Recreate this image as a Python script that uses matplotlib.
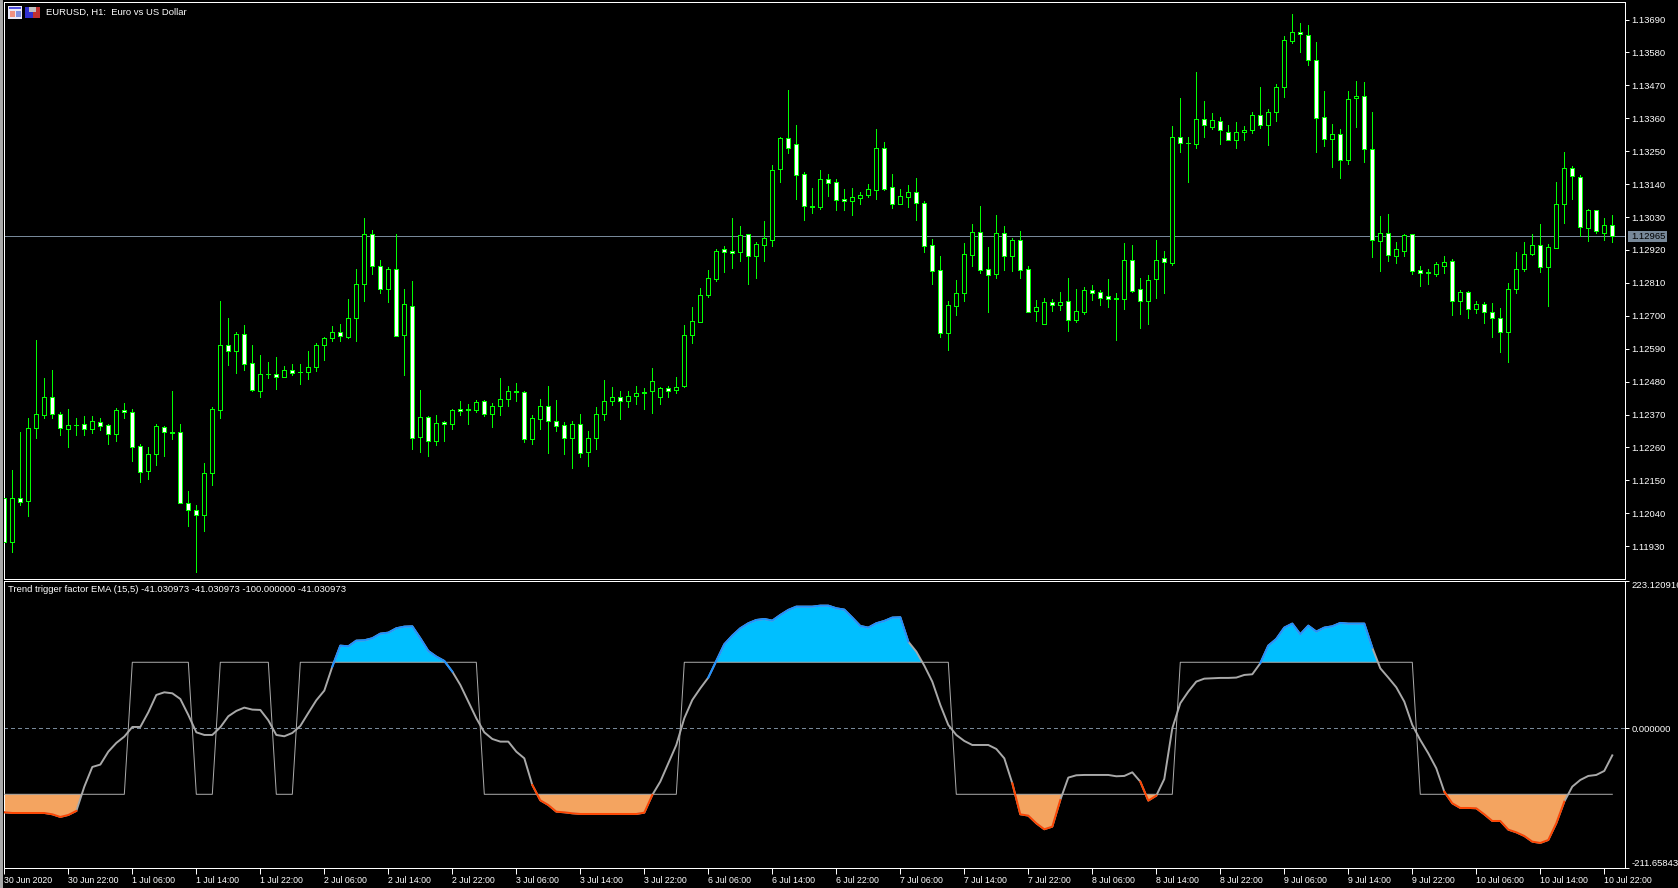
import matplotlib
matplotlib.use("Agg")
import numpy as np
import matplotlib.pyplot as plt
from matplotlib.patches import Rectangle

plt.rcParams['font.family'] = ['Liberation Sans', 'DejaVu Sans']

# EURUSD H1 prices, in points (1e-5)
open_pts = [
    112091, 111943, 112091, 112080, 112326, 112368, 112429, 112373, 112321, 112336,
    112339, 112321, 112346, 112336, 112304, 112386, 112379, 112265, 112181, 112239,
    112329, 112312, 112312, 112075, 112051, 112034, 112175, 112386, 112604, 112583,
    112640, 112543, 112450, 112506, 112506, 112495, 112520, 112512, 112513, 112530,
    112604, 112627, 112647, 112629, 112691, 112805, 112972, 112865, 112788, 112858,
    112636, 112734, 112294, 112363, 112281, 112346, 112339, 112389, 112386, 112386,
    112416, 112373, 112399, 112423, 112450, 112446, 112289, 112356, 112399, 112349,
    112336, 112291, 112339, 112245, 112293, 112372, 112415, 112430, 112415, 112433,
    112444, 112447, 112430, 112457, 112452, 112465, 112636, 112680, 112770, 112824,
    112922, 112915, 112914, 112972, 112901, 112938, 112954, 113189, 113294, 113274,
    113173, 113066, 113062, 113156, 113146, 113090, 113082, 113095, 113102, 113122,
    113260, 113130, 113072, 113098, 113113, 113076, 112936, 112852, 112643, 112734,
    112777, 112904, 112979, 112855, 112841, 112976, 112901, 112952, 112855, 112717,
    112673, 112745, 112737, 112751, 112687, 112713, 112785, 112778, 112765, 112761,
    112757, 112885, 112788, 112750, 112824, 112892, 112876, 113297, 113277, 113273,
    113357, 113332, 113351, 113314, 113286, 113313, 113320, 113371, 113336, 113380,
    113463, 113617, 113649, 113639, 113555, 113364, 113291, 113307, 113222, 113427,
    113434, 113259, 112951, 112976, 112901, 112918, 112972, 112852, 112845, 112841,
    112868, 112882, 112751, 112781, 112724, 112741, 112711, 112691, 112647, 112791,
    112858, 112907, 112935, 112864, 112928, 113073, 113193, 113163, 112994, 113053,
    112978, 113003,
]
high_pts = [
    112091, 112186, 112310, 112360, 112618, 112493, 112518, 112379, 112387, 112357,
    112364, 112364, 112357, 112337, 112393, 112407, 112387, 112270, 112260, 112339,
    112330, 112447, 112337, 112113, 112069, 112209, 112396, 112749, 112694, 112647,
    112668, 112604, 112570, 112544, 112561, 112531, 112540, 112540, 112583, 112610,
    112628, 112667, 112671, 112756, 112856, 113027, 112987, 112888, 112862, 112973,
    112789, 112816, 112451, 112364, 112370, 112350, 112389, 112414, 112404, 112417,
    112417, 112407, 112491, 112464, 112477, 112447, 112370, 112421, 112467, 112417,
    112344, 112347, 112371, 112314, 112394, 112485, 112461, 112448, 112448, 112464,
    112458, 112524, 112461, 112464, 112494, 112668, 112729, 112793, 112853, 112923,
    112933, 113027, 113000, 112973, 112947, 113017, 113203, 113297, 113456, 113338,
    113181, 113127, 113188, 113174, 113158, 113124, 113127, 113114, 113141, 113325,
    113281, 113174, 113124, 113137, 113161, 113084, 112957, 112900, 112748, 112819,
    112943, 113007, 113067, 112930, 113037, 113000, 112960, 112983, 112866, 112752,
    112759, 112756, 112779, 112826, 112789, 112796, 112803, 112786, 112823, 112776,
    112943, 112936, 112826, 112836, 112953, 112916, 113335, 113429, 113297, 113516,
    113419, 113379, 113365, 113338, 113349, 113335, 113382, 113466, 113392, 113476,
    113636, 113707, 113677, 113673, 113616, 113452, 113342, 113325, 113452, 113486,
    113482, 113382, 113034, 113041, 112947, 112974, 112974, 112866, 112855, 112880,
    112900, 112889, 112786, 112782, 112749, 112746, 112742, 112725, 112809, 112913,
    112946, 112973, 113007, 112940, 113148, 113248, 113201, 113171, 113057, 113054,
    113027, 113037,
]
low_pts = [
    111943, 111909, 112067, 112032, 112291, 112357, 112360, 112303, 112260, 112300,
    112303, 112307, 112317, 112273, 112283, 112360, 112216, 112146, 112153, 112200,
    112230, 112287, 112075, 111999, 111845, 111980, 112136, 112360, 112534, 112508,
    112518, 112447, 112427, 112491, 112454, 112494, 112501, 112471, 112488, 112514,
    112551, 112615, 112615, 112625, 112615, 112749, 112839, 112776, 112746, 112634,
    112501, 112256, 112246, 112230, 112267, 112283, 112323, 112367, 112337, 112377,
    112364, 112327, 112367, 112397, 112414, 112277, 112273, 112323, 112240, 112315,
    112237, 112190, 112227, 112197, 112254, 112351, 112401, 112354, 112394, 112404,
    112387, 112374, 112404, 112428, 112441, 112462, 112609, 112680, 112763, 112816,
    112846, 112860, 112883, 112806, 112826, 112883, 112933, 113148, 113245, 113091,
    113020, 113044, 113057, 113101, 113054, 113054, 113037, 113074, 113097, 113091,
    113121, 113060, 113072, 113064, 113020, 112913, 112806, 112629, 112585, 112702,
    112749, 112866, 112843, 112712, 112826, 112853, 112850, 112826, 112713, 112682,
    112673, 112716, 112719, 112649, 112679, 112706, 112752, 112736, 112729, 112619,
    112722, 112779, 112658, 112672, 112759, 112776, 112870, 113248, 113148, 113261,
    113298, 113325, 113275, 113289, 113261, 113288, 113312, 113328, 113272, 113352,
    113432, 113610, 113580, 113539, 113248, 113268, 113198, 113161, 113208, 113332,
    113215, 112897, 112850, 112883, 112876, 112900, 112840, 112799, 112806, 112833,
    112843, 112702, 112705, 112692, 112709, 112675, 112628, 112578, 112545, 112776,
    112849, 112903, 112846, 112732, 112928, 113010, 113091, 112966, 112950, 112977,
    112953, 112947,
]
close_pts = [
    111943, 112091, 112078, 112326, 112373, 112429, 112371, 112326, 112336, 112335,
    112321, 112349, 112331, 112304, 112386, 112379, 112261, 112177, 112239, 112332,
    112312, 112308, 112075, 112051, 112034, 112175, 112389, 112604, 112583, 112640,
    112540, 112453, 112506, 112505, 112495, 112520, 112510, 112511, 112530, 112604,
    112627, 112647, 112634, 112691, 112805, 112972, 112865, 112791, 112855, 112634,
    112738, 112292, 112363, 112281, 112342, 112339, 112386, 112383, 112389, 112413,
    112373, 112399, 112423, 112450, 112446, 112289, 112359, 112399, 112349, 112332,
    112291, 112339, 112241, 112293, 112373, 112416, 112430, 112415, 112433, 112443,
    112442, 112483, 112457, 112449, 112463, 112637, 112681, 112771, 112825, 112915,
    112914, 112911, 112969, 112901, 112939, 112959, 113187, 113294, 113262, 113169,
    113068, 113062, 113156, 113145, 113088, 113084, 113096, 113103, 113123, 113260,
    113125, 113072, 113100, 113113, 113078, 112934, 112851, 112643, 112735, 112775,
    112905, 112979, 112854, 112837, 112976, 112901, 112952, 112854, 112713, 112728,
    112745, 112737, 112745, 112687, 112715, 112785, 112777, 112761, 112757, 112757,
    112885, 112783, 112750, 112821, 112888, 112881, 113297, 113276, 113276, 113357,
    113336, 113354, 113320, 113289, 113314, 113321, 113371, 113336, 113381, 113465,
    113622, 113649, 113641, 113554, 113360, 113291, 113307, 113219, 113424, 113434,
    113259, 112952, 112976, 112904, 112922, 112969, 112851, 112844, 112843, 112872,
    112879, 112751, 112781, 112724, 112741, 112711, 112691, 112647, 112788, 112858,
    112908, 112935, 112862, 112929, 113073, 113193, 113167, 112996, 113053, 112982,
    113003, 112966,
]

# trend trigger factor values per bar
ttf = [
    -127.3, -128.3, -128.3, -128.3, -128.3, -128.3, -130.3, -134.3, -131.3, -125.2,
    -88.4, -58.6, -55.0, -35.4, -22.2, -12.6, 2.0, 2.0, 24.2, 50.5,
    54.5, 53.0, 44.4, 20.2, -6.1, -10.1, -10.1, 1.5, 18.2, 26.3,
    31.3, 28.3, 27.8, 12.1, -10.1, -12.1, -7.1, 3.5, 23.2, 42.4,
    57.1, 93.4, 125.2, 124.2, 132.8, 133.3, 136.4, 143.4, 144.9, 151.5,
    154.0, 154.5, 136.4, 117.2, 108.6, 102.0, 85.9, 65.7, 40.4, 15.2,
    -6.1, -16.2, -20.2, -20.2, -35.4, -45.5, -85.9, -109.1, -116.2, -126.3,
    -127.3, -128.8, -129.8, -129.8, -129.8, -129.8, -129.8, -129.8, -129.8, -129.8,
    -127.8, -101.0, -80.8, -53.0, -25.3, 15.2, 42.9, 60.6, 76.8, 102.0,
    127.3, 140.4, 151.5, 159.1, 164.1, 165.6, 163.1, 171.7, 179.3, 184.3,
    184.3, 184.3, 185.8, 185.8, 181.8, 179.8, 167.7, 155.0, 152.5, 159.1,
    162.6, 167.7, 168.2, 131.3, 116.2, 94.9, 70.7, 35.4, 5.1, -10.1,
    -19.2, -25.3, -25.3, -25.3, -31.3, -45.5, -83.3, -130.3, -132.3, -143.9,
    -153.0, -149.0, -108.6, -74.7, -71.2, -70.7, -70.7, -70.7, -70.7, -72.7,
    -72.2, -66.7, -80.8, -109.6, -102.0, -76.8, 0.0, 37.9, 55.6, 70.7,
    75.2, 75.8, 76.3, 76.3, 76.8, 80.8, 81.8, 98.5, 125.2, 135.3,
    152.5, 158.6, 142.4, 155.5, 146.5, 152.5, 154.5, 159.6, 158.6, 158.6,
    158.6, 122.2, 90.9, 76.8, 62.1, 40.4, 5.1, -17.7, -37.9, -60.6,
    -96.0, -113.6, -120.7, -120.7, -121.2, -130.3, -140.4, -140.4, -153.5, -157.6,
    -163.1, -171.7, -173.7, -169.2, -143.9, -111.1, -88.4, -78.3, -72.2, -70.7,
    -64.6, -41.03,
]
signal = ([-100] * 16 + [100] * 8 + [-100] * 3 + [100] * 7 + [-100] * 3 + [100] * 23
          + [-100] * 25 + [100] * 34 + [-100] * 28 + [100] * 30 + [-100] * 25)

# bar ranges where the ttf line takes the trend colour
blue_runs = [(41, 56), (88, 113), (157, 171)]
orange_runs = [(0, 9), (66, 81), (126, 132), (142, 144), (180, 195)]

price_ticks = [1.13690, 1.13580, 1.13470, 1.13360, 1.13250, 1.13140, 1.13030, 1.12920, 1.12810,
               1.12700, 1.12590, 1.12480, 1.12370, 1.12260, 1.12150, 1.12040, 1.11930]
last_price = 1.12965
time_labels = ["30 Jun 2020", "30 Jun 22:00", "1 Jul 06:00", "1 Jul 14:00", "1 Jul 22:00",
               "2 Jul 06:00", "2 Jul 14:00", "2 Jul 22:00", "3 Jul 06:00", "3 Jul 14:00",
               "3 Jul 22:00", "6 Jul 06:00", "6 Jul 14:00", "6 Jul 22:00", "7 Jul 06:00",
               "7 Jul 14:00", "7 Jul 22:00", "8 Jul 06:00", "8 Jul 14:00", "8 Jul 22:00",
               "9 Jul 06:00", "9 Jul 14:00", "9 Jul 22:00", "10 Jul 06:00", "10 Jul 14:00",
               "10 Jul 22:00"]
ttf_top, ttf_bottom = 223.120916, -211.658436

W, H = 1678, 888
PX = 0.72  # one pixel in points at dpi 100
GREEN = '#00ff00'
GREY = '#778899'
LINE = '#a9a9a9'
FS = 6.8
FS_TIME = 6.3


def axes_px(left, top, right, bottom):
    return fig.add_axes([left / W, 1 - bottom / H, (right - left) / W, (bottom - top) / H])


def box_px(left, top, right, bottom, colour):
    fig.add_artist(Rectangle((left / W, 1 - bottom / H), (right - left) / W, (bottom - top) / H,
                             fc=colour, ec='none', transform=fig.transFigure))


fig = plt.figure(figsize=(W / 100, H / 100), dpi=100, facecolor='black')
ax = axes_px(4, 2.5, 1625, 578.5)
sub = axes_px(4, 581, 1625, 868)

o = np.array(open_pts) / 1e5
h = np.array(high_pts) / 1e5
l = np.array(low_pts) / 1e5
c = np.array(close_pts) / 1e5
x = np.arange(len(o))
v = np.array(ttf)

for a in (ax, sub):
    a.set_facecolor('black')
    a.set_xlim(-0.04, 202.59)
    for s in a.spines.values():
        s.set_color('white')
        s.set_linewidth(PX)
    a.yaxis.tick_right()
    a.tick_params(axis='y', colors='white', length=3, width=PX, pad=1.5, labelsize=FS)

# candles: white body falling, black body rising
ax.axhline(last_price, color=GREY, lw=PX, zorder=1, antialiased=False)
ax.vlines(x, l, h, color=GREEN, lw=PX, zorder=2, antialiased=False)
top = np.maximum(o, c)
bot = np.minimum(o, c)
fills = ['white' if cl < op else 'black' for op, cl in zip(o, c)]
ax.bar(x, top - bot, width=0.5, bottom=bot, color=fills, edgecolor=GREEN, linewidth=PX,
       zorder=3, antialiased=False)
ax.set_ylim(1.11822, 1.13747)
ax.set_yticks(price_ticks)
ax.set_yticklabels([f"{t:.5f}" for t in price_ticks])
ax.set_xticks([])

box_px(1628, 231, 1667, 242, GREY)
fig.text(1631 / W, 1 - 236.5 / H, f"{last_price:.5f}", color='black', fontsize=FS, va='center', ha='left')
fig.text(46 / W, 1 - 12.5 / H, "EURUSD, H1:  Euro vs US Dollar", color='white', fontsize=FS,
         va='center', ha='left')

# little window icons in the corner
box_px(8, 6, 22, 19, '#e8e8f8')
box_px(9, 7, 21, 9.5, '#5050e0')
box_px(10, 11, 15, 17, '#f09080')
box_px(16, 11, 21, 17, '#8090e0')
box_px(25, 7, 32.5, 18, '#3030d0')
box_px(32.5, 7, 40, 18, '#c03030')
box_px(29, 7, 36, 12, '#c0c0c0')

# indicator panel
sub.axhline(0, color=GREY, lw=PX, linestyle=(0, (3, 3)), zorder=1, antialiased=False)
sub.fill_between(x, 100, v, where=v > 100, interpolate=True, color='#00bfff', lw=0, zorder=2)
sub.fill_between(x, -100, v, where=v < -100, interpolate=True, color='#f4a460', lw=0, zorder=2)
sub.plot(x, signal, color=LINE, lw=PX, zorder=3)
sub.plot(x, v, color=LINE, lw=1.4, zorder=4)
for a0, a1 in blue_runs:
    sub.plot(x[a0:a1 + 1], v[a0:a1 + 1], color='#1e90ff', lw=1.4, zorder=5)
for a0, a1 in orange_runs:
    sub.plot(x[a0:a1 + 1], v[a0:a1 + 1], color='#ff4500', lw=1.4, zorder=5)
sub.set_ylim(ttf_bottom, ttf_top)
sub.set_yticks([ttf_top, 0, ttf_bottom])
labels = sub.set_yticklabels([f"{ttf_top:.6f}", "0.000000", f"{ttf_bottom:.6f}"])
labels[0].set_verticalalignment('top')
labels[2].set_verticalalignment('bottom')
sub.set_xticks(np.arange(0, len(x), 8))
sub.set_xticklabels(time_labels, ha='left')
sub.tick_params(axis='x', colors='white', length=4, width=PX, pad=1.5, labelsize=FS_TIME)
fig.text(8 / W, 1 - 589 / H, "Trend trigger factor EMA (15,5) -41.030973 -41.030973 -100.000000 -41.030973",
         color='white', fontsize=FS, va='center', ha='left')

box_px(0, 0, 2.5, H, '#a8a8a8')

fig.savefig("out.png", dpi=100, facecolor='black')
